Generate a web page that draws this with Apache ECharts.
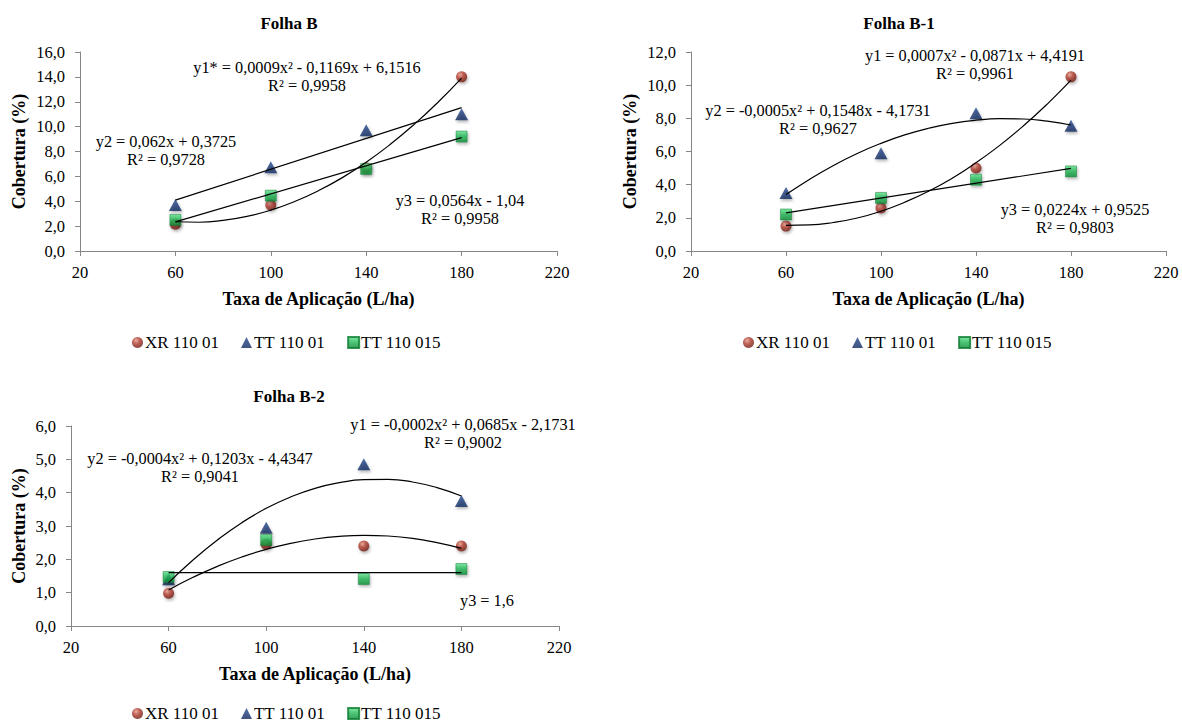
<!DOCTYPE html>
<html>
<head>
<meta charset="utf-8">
<script src="https://cdn.jsdelivr.net/npm/echarts@6/dist/echarts.min.js"></script>
<style>
html,body{margin:0;padding:0;background:#fff;font-family:'Liberation Serif',serif;}
#chart{width:1182px;height:724px;}
</style>
</head>
<body>
<div id="chart"></div>
<script>
// ---- data ----
const seriesNames = ['XR 110 01', 'TT 110 01', 'TT 110 015'];
const rates = [60, 100, 140, 180];
const curveRates = [60, 70, 80, 90, 100, 110, 120, 130, 140, 150, 160, 170, 180];
const lineRates = [60, 180];

const panelTitles = ['Folha B', 'Folha B-1', 'Folha B-2'];
const xAxisTitle = 'Taxa de Aplicação (L/ha)';
const yAxisTitle = 'Cobertura (%)';
const xMin = 20, xMax = 220, xStep = 40;
const yMaxes = [16, 12, 6];
const ySteps = [2, 2, 1];

// Folha B
const bXR = [2.15, 3.7, 6.7, 14.0];
const bTT1 = [3.7, 6.73, 9.7, 11.0];
const bTT15 = [2.5, 4.45, 6.6, 9.2];
const bXRTrend = [2.35, 2.31, 2.46, 2.78, 3.29, 3.98, 4.85, 5.9, 7.14, 8.56, 10.16, 11.94, 13.9];
const bTT1Trend = [4.09, 11.53];
const bTT15Trend = [2.34, 9.11];

// Folha B-1
const b1XR = [1.5, 2.6, 5.0, 10.5];
const b1TT1 = [3.5, 5.9, 8.3, 7.55];
const b1TT15 = [2.2, 3.2, 4.3, 4.8];
const b1XRTrend = [1.55, 1.57, 1.72, 1.99, 2.4, 2.94, 3.6, 4.39, 5.32, 6.37, 7.55, 8.86, 10.3];
const b1TT1Trend = [3.4, 4.33, 5.16, 5.88, 6.49, 7.0, 7.4, 7.7, 7.89, 7.98, 7.96, 7.83, 7.6];
const b1TT15Trend = [2.30, 4.98];

// Folha B-2
const b2XR = [0.98, 2.45, 2.4, 2.4];
const b2TT1 = [1.4, 2.95, 4.85, 3.75];
const b2TT15 = [1.47, 2.58, 1.41, 1.71];
const b2XRTrend = [1.08, 1.46, 1.79, 2.07, 2.3, 2.48, 2.61, 2.69, 2.72, 2.7, 2.63, 2.5, 2.33];
const b2TT1Trend = [1.3, 1.98, 2.58, 3.1, 3.53, 3.87, 4.13, 4.3, 4.39, 4.4, 4.32, 4.15, 3.9];
const b2TT15Trend = [1.6, 1.6];

// equation labels
const equations = [
  ['y1* = 0,0009x² - 0,1169x + 6,1516', 'R² = 0,9958'],
  ['y2 = 0,062x + 0,3725', 'R² = 0,9728'],
  ['y3 = 0,0564x - 1,04', 'R² = 0,9958'],
  ['y1 = 0,0007x² - 0,0871x + 4,4191', 'R² = 0,9961'],
  ['y2 = -0,0005x² + 0,1548x - 4,1731', 'R² = 0,9627'],
  ['y3 = 0,0224x + 0,9525', 'R² = 0,9803'],
  ['y1 = -0,0002x² + 0,0685x - 2,1731', 'R² = 0,9002'],
  ['y2 = -0,0004x² + 0,1203x - 4,4347', 'R² = 0,9041'],
  ['y3 = 1,6', '']
];

// ---- layout ----
const FONT = "'Liberation Serif', 'Times New Roman', serif";
const grids = [
  {left: 80, top: 52, width: 477, height: 199},
  {left: 691, top: 52, width: 475, height: 199},
  {left: 71, top: 426, width: 488, height: 200}
];
const yNameGaps = [52, 52, 43];
const titlePos = [[289, 23], [899, 23], [289, 396]];
const legendPos = [[132, 334], [743, 334], [132, 705]];
const eqPos = [
  [307, 67], [166, 141], [460, 200],
  [975, 55], [818, 110], [1075, 209],
  [463, 424], [200, 458], [487, 600]
];

const pts = (xs, ys) => xs.map((x, i) => [x, ys[i]]);

const xrStyle = {
  color: {type: 'radial', x: 0.38, y: 0.32, r: 0.7, colorStops: [
    {offset: 0, color: '#e39a8a'}, {offset: 0.45, color: '#b03a2c'}, {offset: 1, color: '#6a1a10'}]},
  shadowBlur: 3, shadowColor: 'rgba(0,0,0,0.35)', shadowOffsetX: 1, shadowOffsetY: 2
};
const ttStyle = {
  color: {type: 'linear', x: 0, y: 0, x2: 0, y2: 1, colorStops: [
    {offset: 0, color: '#24488f'}, {offset: 1, color: '#10275c'}]},
  shadowBlur: 3, shadowColor: 'rgba(0,0,0,0.35)', shadowOffsetX: 1, shadowOffsetY: 2
};
const sqStyle = {
  color: {type: 'linear', x: 0, y: 0, x2: 0, y2: 1, colorStops: [
    {offset: 0, color: '#5ee08a'}, {offset: 0.5, color: '#1fb452'}, {offset: 1, color: '#0b8934'}]},
  borderColor: '#0a7a30', borderWidth: 0.6,
  shadowBlur: 3, shadowColor: 'rgba(0,0,0,0.35)', shadowOffsetX: 1, shadowOffsetY: 2
};

const panelData = [
  {xr: bXR, tt1: bTT1, tt15: bTT15, xrT: bXRTrend, tt1T: bTT1Trend, tt15T: bTT15Trend, tt1TX: lineRates},
  {xr: b1XR, tt1: b1TT1, tt15: b1TT15, xrT: b1XRTrend, tt1T: b1TT1Trend, tt15T: b1TT15Trend, tt1TX: curveRates},
  {xr: b2XR, tt1: b2TT1, tt15: b2TT15, xrT: b2XRTrend, tt1T: b2TT1Trend, tt15T: b2TT15Trend, tt1TX: curveRates}
];

const axisColor = '#868686';
const xAxes = [], yAxes = [], series = [], legends = [], graphics = [];
const trendLine = {color: '#000', width: 1.2};

panelData.forEach((p, i) => {
  xAxes.push({
    gridIndex: i, type: 'value', min: xMin, max: xMax, interval: xStep,
    name: xAxisTitle, nameLocation: 'middle', nameGap: 39,
    nameTextStyle: {fontFamily: FONT, fontWeight: 'bold', fontSize: 18, color: '#000'},
    axisLine: {show: true, lineStyle: {color: axisColor, width: 1}},
    axisTick: {show: true, length: 5, lineStyle: {color: axisColor}},
    axisLabel: {fontFamily: FONT, fontSize: 16.5, color: '#000', margin: 13},
    splitLine: {show: false}
  });
  yAxes.push({
    gridIndex: i, type: 'value', min: 0, max: yMaxes[i], interval: ySteps[i],
    name: yAxisTitle, nameLocation: 'middle', nameGap: yNameGaps[i], nameRotate: 90,
    nameTextStyle: {fontFamily: FONT, fontWeight: 'bold', fontSize: 18, color: '#000'},
    axisLine: {show: true, lineStyle: {color: axisColor, width: 1}},
    axisTick: {show: true, length: 5, lineStyle: {color: axisColor}},
    axisLabel: {fontFamily: FONT, fontSize: 16.5, color: '#000', margin: 15,
      formatter: v => v.toFixed(1).replace('.', ',')},
    splitLine: {show: false}
  });
  series.push(
    {name: seriesNames[0], type: 'scatter', xAxisIndex: i, yAxisIndex: i, symbol: 'circle', symbolSize: 11,
     itemStyle: xrStyle, data: pts(rates, p.xr), z: 2},
    {name: seriesNames[1], type: 'scatter', xAxisIndex: i, yAxisIndex: i, symbol: 'triangle', symbolSize: [13, 12],
     itemStyle: ttStyle, data: pts(rates, p.tt1), z: 3},
    {name: seriesNames[2], type: 'scatter', xAxisIndex: i, yAxisIndex: i, symbol: 'rect', symbolSize: 11,
     itemStyle: sqStyle, data: pts(rates, p.tt15), z: 4},
    {name: 'trend-xr-' + i, type: 'line', xAxisIndex: i, yAxisIndex: i, smooth: true, symbol: 'none',
     lineStyle: trendLine, data: pts(curveRates, p.xrT), z: 6, silent: true},
    {name: 'trend-tt1-' + i, type: 'line', xAxisIndex: i, yAxisIndex: i, smooth: true, symbol: 'none',
     lineStyle: trendLine, data: pts(p.tt1TX, p.tt1T), z: 6, silent: true},
    {name: 'trend-tt15-' + i, type: 'line', xAxisIndex: i, yAxisIndex: i, smooth: true, symbol: 'none',
     lineStyle: trendLine, data: pts(lineRates, p.tt15T), z: 6, silent: true}
  );
  legends.push({
    data: [{name: seriesNames[0], icon: 'circle'}, {name: seriesNames[1], icon: 'triangle'}, {name: seriesNames[2], icon: 'rect'}],
    left: legendPos[i][0], top: legendPos[i][1], orient: 'horizontal', padding: 0,
    itemWidth: 11, itemHeight: 11, itemGap: 22,
    textStyle: {fontFamily: FONT, fontSize: 17, color: '#000', padding: [0, 0, 0, -3]}
  });
  graphics.push({
    type: 'text', x: titlePos[i][0], y: titlePos[i][1],
    style: {text: panelTitles[i], fontFamily: FONT, fontSize: 17, fontWeight: 'bold', fill: '#000',
      textAlign: 'center', textVerticalAlign: 'middle'}
  });
});

equations.forEach((eq, k) => {
  graphics.push({
    type: 'text', x: eqPos[k][0], y: eqPos[k][1],
    style: {text: eq[0], fontFamily: FONT, fontSize: 16.3, fill: '#000', textAlign: 'center', textVerticalAlign: 'middle'}
  });
  if (eq[1]) {
    graphics.push({
      type: 'text', x: eqPos[k][0], y: eqPos[k][1] + 18.5,
      style: {text: eq[1], fontFamily: FONT, fontSize: 16.3, fill: '#000', textAlign: 'center', textVerticalAlign: 'middle'}
    });
  }
});

const chart = echarts.init(document.getElementById('chart'), null, {renderer: 'svg'});
chart.setOption({
  animation: false,
  backgroundColor: '#fff',
  textStyle: {fontFamily: FONT},
  grid: grids,
  xAxis: xAxes,
  yAxis: yAxes,
  legend: legends,
  series: series,
  graphic: graphics
});
</script>
</body>
</html>
